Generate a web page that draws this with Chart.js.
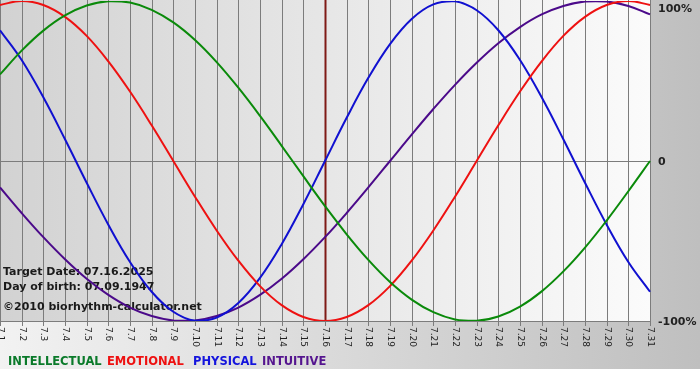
<!DOCTYPE html>
<html><head><meta charset="utf-8">
<script src="https://cdn.jsdelivr.net/npm/chart.js@4/dist/chart.umd.min.js"></script>
<style>html,body{margin:0;padding:0;background:#fff}#wrap{width:700px;height:380px;position:relative}</style>
</head><body><div id="wrap"><canvas id="c" width="700" height="380"></canvas></div>
<script>
const days = ['7.1','7.2','7.3','7.4','7.5','7.6','7.7','7.8','7.9','7.10','7.11','7.12','7.13','7.14','7.15','7.16','7.17','7.18','7.19','7.20','7.21','7.22','7.23','7.24','7.25','7.26','7.27','7.28','7.29','7.30','7.31'];
const intellectual = [0.541,0.690,0.815,0.910,0.972,0.999,0.990,0.945,0.866,0.756,0.618,0.458,0.282,0.095,-0.095,-0.282,-0.458,-0.618,-0.756,-0.866,-0.945,-0.990,-0.999,-0.972,-0.910,-0.815,-0.690,-0.541,-0.372,-0.189,0];
const emotional = [0.975,1,0.975,0.901,0.782,0.623,0.434,0.223,0,-0.223,-0.434,-0.623,-0.782,-0.901,-0.975,-1,-0.975,-0.901,-0.782,-0.623,-0.434,-0.223,0,0.223,0.434,0.623,0.782,0.901,0.975,1,0.975];
const physical = [0.817,0.631,0.398,0.136,-0.136,-0.398,-0.631,-0.817,-0.942,-0.998,-0.979,-0.888,-0.731,-0.520,-0.270,0,0.270,0.520,0.731,0.888,0.979,0.998,0.942,0.817,0.631,0.398,0.136,-0.136,-0.398,-0.631,-0.817];
const intuitive = [-0.165,-0.325,-0.476,-0.614,-0.736,-0.837,-0.916,-0.969,-0.997,-0.997,-0.969,-0.916,-0.837,-0.736,-0.614,-0.476,-0.325,-0.165,0,0.165,0.325,0.476,0.614,0.736,0.837,0.916,0.969,0.997,0.997,0.969,0.916];
const yTicks = [1, 0, -1];
const yTickLabels = ['100%', '0', '-100%'];
const targetDay = '7.16';
const seriesNames = ['INTELLECTUAL', 'EMOTIONAL', 'PHYSICAL', 'INTUITIVE'];
const infoLines = ['Target Date: 07.16.2025', 'Day of birth: 07.09.1947', '\u00a92010 biorhythm-calculator.net'];

const colors = ['#0a8a0a', '#ee1111', '#1010d0', '#4b0a8a'];
const legendColors = ['#0a7a2a', '#ee1111', '#1515dd', '#55158f'];
const legendX = [8, 107, 193, 262];

const deco = {
  id: 'deco',
  beforeDraw(chart) {
    const ctx = chart.ctx, a = chart.chartArea;
    const xs = chart.scales.x, ys = chart.scales.y;
    ctx.save();
    const og = ctx.createLinearGradient(0, 0, 700, 0);
    og.addColorStop(0, '#f2f2f2');
    og.addColorStop(1, '#bfbfbf');
    ctx.fillStyle = og;
    ctx.fillRect(0, 0, 700, 369);
    ctx.fillStyle = '#ffffff';
    ctx.fillRect(0, 369, 700, 11);
    const pg = ctx.createLinearGradient(a.left, 0, a.right, 0);
    pg.addColorStop(0, '#d2d2d2');
    pg.addColorStop(1, '#fbfbfb');
    ctx.fillStyle = pg;
    ctx.fillRect(a.left, a.top - 1, a.right - a.left, a.bottom - a.top + 1);
    ctx.strokeStyle = '#7c7c7c';
    ctx.lineWidth = 1;
    ctx.beginPath();
    days.forEach((d, i) => {
      const x = Math.round(xs.getPixelForValue(i)) + 0.5;
      ctx.moveTo(x, a.top - 1);
      ctx.lineTo(x, a.bottom + 5);
    });
    const y0 = Math.round(ys.getPixelForValue(0)) + 0.5;
    ctx.moveTo(a.left, y0); ctx.lineTo(a.right + 1, y0);
    const yb = Math.round(a.bottom) + 0.5;
    ctx.moveTo(a.left, yb); ctx.lineTo(a.right + 1, yb);
    ctx.stroke();
    const tx = Math.round(xs.getPixelForValue(days.indexOf(targetDay))) + 0.5;
    ctx.strokeStyle = '#7f1a16';
    ctx.lineWidth = 2;
    ctx.beginPath();
    ctx.moveTo(tx, a.top - 1); ctx.lineTo(tx, a.bottom);
    ctx.stroke();
    ctx.fillStyle = '#222222';
    ctx.font = '9px "DejaVu Sans"';
    ctx.textAlign = 'left';
    ctx.textBaseline = 'middle';
    days.forEach((d, i) => {
      const x = xs.getPixelForValue(i);
      ctx.save();
      ctx.translate(x + 0.5, a.bottom + 6);
      ctx.rotate(Math.PI / 2);
      ctx.fillText(d, 0, 0);
      ctx.restore();
    });
    ctx.font = 'bold 11px "DejaVu Sans"';
    ctx.fillStyle = '#222222';
    yTicks.forEach((v, i) => {
      let y = ys.getPixelForValue(v);
      if (y < 8) y = 8;
      ctx.fillText(yTickLabels[i], a.right + 8, y + 1);
    });
    ctx.fillStyle = '#1a1a1a';
    ctx.fillText(infoLines[0], 3, 272);
    ctx.fillText(infoLines[1], 3, 287);
    ctx.fillText(infoLines[2], 3, 307);
    ctx.font = 'bold 11.5px "DejaVu Sans"';
    seriesNames.forEach((n, i) => {
      ctx.fillStyle = legendColors[i];
      ctx.fillText(n, legendX[i], 362);
    });
    ctx.restore();
  }
};

new Chart(document.getElementById('c'), {
  type: 'line',
  data: {
    labels: days,
    datasets: [
      { label: seriesNames[0], data: intellectual, borderColor: colors[0] },
      { label: seriesNames[1], data: emotional, borderColor: colors[1] },
      { label: seriesNames[2], data: physical, borderColor: colors[2] },
      { label: seriesNames[3], data: intuitive, borderColor: colors[3] }
    ]
  },
  options: {
    responsive: false,
    animation: false,
    devicePixelRatio: 1,
    layout: { padding: { left: 0, right: 50, top: 1, bottom: 59 } },
    elements: { point: { radius: 0 }, line: { borderWidth: 2, tension: 0.4, fill: false } },
    scales: {
      x: { display: false },
      y: { display: false, min: -1, max: 1 }
    },
    plugins: { legend: { display: false }, tooltip: { enabled: false } }
  },
  plugins: [deco]
});
</script></body></html>
